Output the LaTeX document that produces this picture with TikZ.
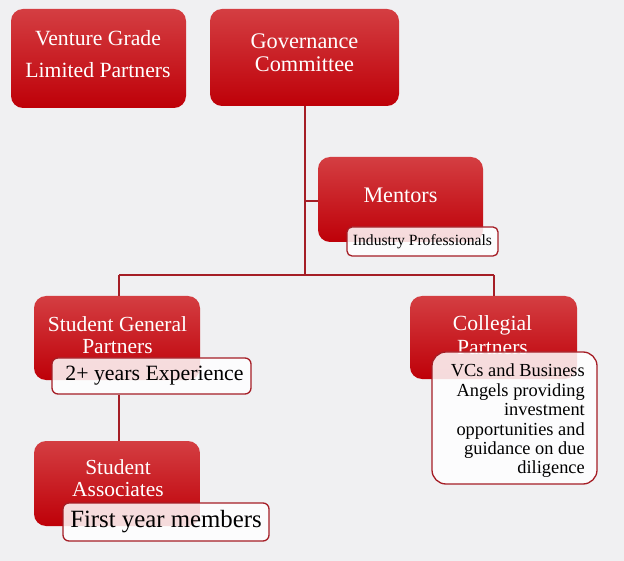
\documentclass[tikz,border=0pt]{standalone}
\usepackage{fontspec}
\setmainfont{Liberation Serif}
\definecolor{bg}{RGB}{240,240,242}
\definecolor{redtop}{RGB}{212,62,66}
\definecolor{redbot}{RGB}{190,0,8}
\definecolor{linec}{RGB}{165,30,38}
\tikzset{
  redbox/.style={rounded corners=12pt, top color=redtop, bottom color=redbot, draw=none, inner sep=0pt},
  redtext/.style={text=white, align=center, inner sep=0pt},
  tagbox/.style={rounded corners=6pt, fill=white, fill opacity=0.86, text opacity=1, draw=linec, line width=1.3pt, inner sep=0pt, align=center},
  conn/.style={draw=linec, line width=1.5pt},
}
\begin{document}
\begin{tikzpicture}[x=1pt,y=-1pt]
\fill[bg] (0,0) rectangle (624,561);
\useasboundingbox (0,0) rectangle (624,561);
% connectors
\coordinate (j1) at (305,201);
\coordinate (j2) at (305,275);
\coordinate (jl) at (119,275);
\coordinate (jr) at (494,275);
% boxes
\node[redbox, minimum width=175pt, minimum height=99pt] (vg) at (98.5,58.5) {};
\node[redbox, minimum width=189pt, minimum height=97pt] (gov) at (304.5,57.5) {};
\node[redbox, minimum width=165pt, minimum height=85pt] (men) at (400.5,199.5) {};
\node[redbox, minimum width=166pt, minimum height=84pt] (sgp) at (117,338) {};
\node[redbox, minimum width=167pt, minimum height=83pt] (col) at (493.5,337.5) {};
\node[redbox, minimum width=166pt, minimum height=85pt] (sa) at (117,483.5) {};
% lines
\draw[conn] (gov.south -| j2) -- (j2);
\draw[conn] (j1) -- (j1 -| men.west);
\draw[conn] (jl) -- (jr);
\draw[conn] (jl) -- (jl |- sgp.north);
\draw[conn] (jr) -- (jr |- col.north);
% texts in boxes
\node[redtext, font=\fontsize{21.7}{32}\selectfont] (vgt) at (98,54) {Venture Grade\\Limited Partners};
\node[redtext, font=\fontsize{22.3}{23.5}\selectfont] (govt) at (304.5,52.5) {Governance\\Committee};
\node[redtext, font=\fontsize{22.2}{24}\selectfont] (ment) at (400.5,195.5) {Mentors};
\node[redtext, font=\fontsize{21.5}{22.5}\selectfont] (sgpt) at (117.5,335) {Student General\\Partners};
\node[redtext, font=\fontsize{21.6}{23.5}\selectfont] (colt) at (492.5,335) {Collegial\\Partners};
\node[redtext, font=\fontsize{21.4}{22.5}\selectfont] (sat) at (118,478) {Student\\Associates};
% tags
\node[tagbox, rounded corners=5pt, minimum width=151pt, minimum height=29pt, font=\fontsize{15.6}{18}\selectfont] (ipt) at (422.5,241.5) {Industry Professionals};
\node[tagbox, minimum width=199pt, minimum height=36pt, font=\fontsize{21.8}{24}\selectfont] (exp) at (151.5,376) {\hspace{6pt}2+ years Experience};
\node[tagbox, minimum width=206pt, minimum height=38pt, font=\fontsize{24.8}{26}\selectfont] (fym) at (166,522) {First year members};
\node[tagbox, rounded corners=14pt, minimum width=165pt, minimum height=132pt] (colb) at (514.5,418) {};
\node[align=right, inner sep=0pt, font=\fontsize{18.4}{19.4}\selectfont, anchor=east] (colbt) at (585,421) {VCs and Business\\Angels providing\\investment\\opportunities and\\guidance on due\\diligence};
\draw[conn] (exp.south -| jl) -- (sa.north -| jl);
\end{tikzpicture}
\end{document}
